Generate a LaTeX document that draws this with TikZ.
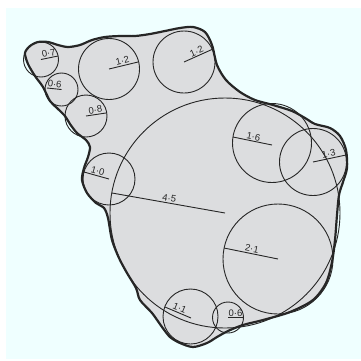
\documentclass[tikz,border=0pt]{standalone}
\usepackage{fontspec}
\setsansfont{Liberation Sans}
\definecolor{bgcyan}{HTML}{EFFFFF}
\definecolor{blobgrey}{HTML}{DCDDDF}
\tikzset{
  bubble/.style={draw=black!85,line width=0.9pt},
  radline/.style={draw=black!85,line width=0.9pt},
  lbl/.style={font=\sffamily\fontsize{9.5}{10}\selectfont,inner sep=0.8pt,text=black!85},
}
\begin{document}
\begin{tikzpicture}[x=1pt,y=-1pt]
\useasboundingbox (0,0) rectangle (361,360);
\fill[bgcyan] (6,8) rectangle (361,359);
% outline of the cluster
\path[fill=blobgrey] plot[smooth cycle] coordinates {
 (25,53) (30,46) (38,42) (48,42) (58,45) (68,47) (80,45) (92,40) (105,37)
 (120,36) (135,36) (150,34) (165,31) (180,28) (193,27) (205,32) (212,45)
 (217,65) (226,80) (240,92) (255,100) (273,105) (292,111) (305,118)
 (315,124) (330,128) (340,136) (346,150) (347,168) (343,182) (339,195)
 (337,215) (335,240) (332,262) (326,283) (313,300) (290,312) (263,320)
 (243,325) (228,331) (217,337) (207,343) (193,347) (180,343) (170,337)
 (162,327) (152,313) (140,300) (136,288) (127,273) (119,258) (112,240)
 (108,218) (104,208) (96,203) (87,193) (82,180) (84,168) (88,157)
 (90,147) (86,140) (77,133) (70,124) (65,116) (57,108) (50,101) (43,87)
 (35,76) (28,64)};
% circles
\coordinate (c07) at (41,59.5);
\coordinate (c06a) at (61.5,89.5);
\coordinate (c08) at (86,116);
\coordinate (c12a) at (109,69);
\coordinate (c12b) at (184,62);
\coordinate (c10) at (109,179);
\coordinate (c45) at (225,213);
\coordinate (c16) at (272,143);
\coordinate (c13) at (313,162);
\coordinate (c21) at (278,259);
\coordinate (c11) at (190.5,316.5);
\coordinate (c06b) at (228,317.5);
\draw[bubble] (c07) circle[radius=17.5];
\draw[bubble] (c06a) circle[radius=16.5];
\draw[bubble] (c08) circle[radius=21];
\draw[bubble] (c12a) circle[radius=30.5];
\draw[bubble] (c12b) circle[radius=31];
\draw[bubble] (c10) circle[radius=26];
\draw[bubble] (c45) circle[radius=115];
\draw[bubble] (c16) circle[radius=39.5];
\draw[bubble] (c13) circle[radius=33.5];
\draw[bubble] (c21) circle[radius=55];
\draw[bubble] (c11) circle[radius=27.5];
\draw[bubble] (c06b) circle[radius=15.5];
% radii with their values
\draw[radline] (c07) -- (58,56) node[lbl,midway,above,sloped] {0·7};
\draw[radline] (47,88) -- (c06a) node[lbl,midway,above,sloped] {0·6};
\draw[radline] (c08) -- (106,113) node[lbl,midway,above,sloped] {0·8};
\draw[radline] (c12a) -- (138,62) node[lbl,midway,above,sloped] {1·2};
\draw[radline] (c12b) -- (213,49) node[lbl,midway,above,sloped] {1·2};
\draw[radline] (84,172) -- (c10) node[lbl,midway,above,sloped] {1·0};
\draw[radline] (112,193) -- (c45) node[lbl,midway,above,sloped] {4·5};
\draw[radline] (233,137) -- (272,145) node[lbl,midway,above,sloped] {1·6};
\draw[radline] (c13) -- (346,155) node[lbl,midway,above,sloped] {1·3};
\draw[radline] (224,248) -- (c21) node[lbl,midway,above,sloped] {2·1};
\draw[radline] (165,307) -- (191,318) node[lbl,midway,above,sloped] {1·1};
\draw[radline] (c06b) -- (243,317.5) node[lbl,midway,above,sloped] {0·6};
% thick outline on top
\draw[line width=2.2pt,black!85] plot[smooth cycle] coordinates {
 (25,53) (30,46) (38,42) (48,42) (58,45) (68,47) (80,45) (92,40) (105,37)
 (120,36) (135,36) (150,34) (165,31) (180,28) (193,27) (205,32) (212,45)
 (217,65) (226,80) (240,92) (255,100) (273,105) (292,111) (305,118)
 (315,124) (330,128) (340,136) (346,150) (347,168) (343,182) (339,195)
 (337,215) (335,240) (332,262) (326,283) (313,300) (290,312) (263,320)
 (243,325) (228,331) (217,337) (207,343) (193,347) (180,343) (170,337)
 (162,327) (152,313) (140,300) (136,288) (127,273) (119,258) (112,240)
 (108,218) (104,208) (96,203) (87,193) (82,180) (84,168) (88,157)
 (90,147) (86,140) (77,133) (70,124) (65,116) (57,108) (50,101) (43,87)
 (35,76) (28,64)};
\end{tikzpicture}
\end{document}
